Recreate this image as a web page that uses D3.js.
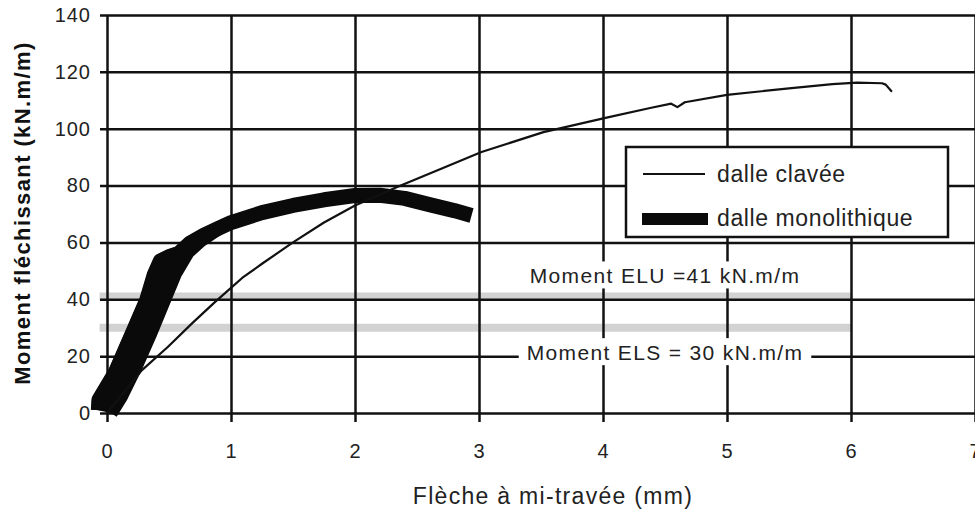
<!DOCTYPE html>
<html>
<head>
<meta charset="utf-8">
<script src="https://cdn.jsdelivr.net/npm/d3@7"></script>
<style>
  body { margin: 0; background: #fff; }
  svg { display: block; font-family: "Liberation Sans", Arial, Helvetica, sans-serif; }
</style>
</head>
<body>
<svg id="chart"></svg>
<script>
const WIDTH = 975;
const HEIGHT = 513;

const xTicks = [0, 1, 2, 3, 4, 5, 6, 7];
const yTicks = [0, 20, 40, 60, 80, 100, 120, 140];

// dalle clavée : [flèche mm, moment kN.m/m]
const clavee = [
  [0, 0], [0.15, 8], [0.28, 15], [0.49, 23.2], [0.69, 31.7], [0.87, 39], [1.0, 44],
  [1.09, 47.5], [1.25, 52.5], [1.5, 60], [1.75, 67], [2.0, 73], [2.34, 79.5],
  [2.7, 86], [3.02, 91.8], [3.52, 98.8], [4.02, 103.8], [4.38, 107.3], [4.55, 108.8],
  [4.6, 107.6], [4.66, 109.3], [5.0, 111.9], [5.5, 114.2], [5.85, 115.7], [6.05, 116.2],
  [6.25, 116], [6.28, 115.5], [6.33, 113]
];

// dalle monolithique : branche de chargement + cycle de déchargement
const monoLoad = [
  [-0.07, 1], [-0.065, 4.6], [0.065, 14.1], [0.226, 30.2], [0.32, 39.7], [0.38, 48.5],
  [0.43, 53.5], [0.5, 55], [0.58, 56.2], [0.67, 59.8], [0.78, 62.5], [0.9, 65],
  [1.0, 67], [1.25, 70.5], [1.5, 73], [1.75, 75], [2.0, 76.5], [2.2, 76.6],
  [2.4, 75.5], [2.6, 73.3], [2.8, 71.2], [2.94, 69.5]
];
const monoCycle = [
  [0.03, 0], [0.11, 5.6], [0.23, 16.2], [0.35, 28.1], [0.47, 40.8], [0.55, 49.2],
  [0.65, 56.6], [0.76, 60.9], [0.9, 65]
];

const limits = [
  { name: "Moment ELU =41 kN.m/m", value: 41, from: -0.06, to: 6.0 },
  { name: "Moment ELS = 30 kN.m/m", value: 30, from: -0.06, to: 6.0 }
];

const svg = d3.select("#chart")
  .attr("width", WIDTH)
  .attr("height", HEIGHT);

const x = d3.scaleLinear().domain([0, 7]).range([107, 975]);
const y = d3.scaleLinear().domain([0, 140]).range([413, 15]);

const line = d3.line()
  .x(d => x(d[0]))
  .y(d => y(d[1]));

// bandes grises ELU / ELS
svg.append("g")
  .selectAll("line")
  .data(limits)
  .join("line")
  .attr("x1", d => x(d.from))
  .attr("x2", d => x(d.to))
  .attr("y1", d => y(d.value))
  .attr("y2", d => y(d.value))
  .attr("stroke", "#d2d2d2")
  .attr("stroke-width", 8);

// grille + axes
const xAxis = svg.append("g")
  .attr("transform", `translate(0,${y(0)})`)
  .call(d3.axisBottom(x).tickValues(xTicks).tickFormat(d3.format("d")).tickSize(9).tickPadding(22));
xAxis.select(".domain").remove();
xAxis.selectAll(".tick line")
  .attr("y1", y(140) - y(0))
  .attr("stroke", "#111")
  .attr("stroke-width", 2.5);

const yAxis = svg.append("g")
  .attr("transform", `translate(${x(0)},0)`)
  .call(d3.axisLeft(y).tickValues(yTicks).tickSize(7).tickPadding(9));
yAxis.select(".domain").remove();
yAxis.selectAll(".tick line")
  .attr("x1", WIDTH - x(0))
  .attr("stroke", "#111")
  .attr("stroke-width", 2.5);

svg.selectAll(".tick text")
  .attr("font-size", 20)
  .attr("letter-spacing", 1)
  .attr("fill", "#222")
  .style("font-family", "'Liberation Sans', Arial, sans-serif");

// courbes : la boucle de la dalle monolithique est remplie
const nMerge = monoLoad.findIndex(d => d[0] === 0.9) + 1;
const loop = monoLoad.slice(0, nMerge).concat(monoCycle.slice().reverse());

svg.append("path")
  .datum(loop)
  .attr("fill", "#0a0a0a")
  .attr("stroke", "#0a0a0a")
  .attr("stroke-width", 14)
  .attr("stroke-linejoin", "round")
  .attr("d", line);

svg.append("path")
  .datum(monoLoad)
  .attr("fill", "none")
  .attr("stroke", "#0a0a0a")
  .attr("stroke-width", 15)
  .attr("stroke-linejoin", "round")
  .attr("d", line);

svg.append("path")
  .datum(clavee)
  .attr("fill", "none")
  .attr("stroke", "#111")
  .attr("stroke-width", 2.2)
  .attr("stroke-linejoin", "round")
  .attr("d", line);

// étiquettes ELU / ELS sur fond blanc
const labelY = [y(41) - 13, y(20) + 4];
limits.forEach((d, i) => {
  const g = svg.append("g");
  const t = g.append("text")
    .attr("x", x(4.5))
    .attr("y", labelY[i])
    .attr("text-anchor", "middle")
    .attr("font-size", 21)
    .attr("letter-spacing", 1.35)
    .attr("fill", "#222")
    .text(d.name);
  const b = t.node().getBBox();
  g.insert("rect", "text")
    .attr("x", b.x - 8)
    .attr("y", b.y - 3)
    .attr("width", b.width + 16)
    .attr("height", b.height + 4)
    .attr("fill", "#fff");
});

// légende
const legend = svg.append("g");
legend.append("rect")
  .attr("x", 626).attr("y", 147)
  .attr("width", 322).attr("height", 90)
  .attr("fill", "#fff")
  .attr("stroke", "#111")
  .attr("stroke-width", 2.5);
legend.append("line")
  .attr("x1", 643).attr("x2", 705)
  .attr("y1", 174).attr("y2", 174)
  .attr("stroke", "#111")
  .attr("stroke-width", 2.2);
legend.append("rect")
  .attr("x", 642).attr("y", 213)
  .attr("width", 66).attr("height", 12)
  .attr("fill", "#0a0a0a");
legend.append("text")
  .attr("x", 717).attr("y", 182)
  .attr("font-size", 23)
  .attr("letter-spacing", 0.6)
  .attr("fill", "#222")
  .text("dalle clavée");
legend.append("text")
  .attr("x", 717).attr("y", 226)
  .attr("font-size", 23)
  .attr("letter-spacing", 0.6)
  .attr("fill", "#222")
  .text("dalle monolithique");

// titres des axes
svg.append("text")
  .attr("x", 553).attr("y", 504)
  .attr("text-anchor", "middle")
  .attr("font-size", 23)
  .attr("letter-spacing", 1.3)
  .attr("fill", "#222")
  .text("Flèche à mi-travée (mm)");

svg.append("text")
  .attr("transform", "translate(30,213) rotate(-90)")
  .attr("text-anchor", "middle")
  .attr("font-size", 22)
  .attr("font-weight", "bold")
  .attr("letter-spacing", 1.4)
  .attr("fill", "#111")
  .text("Moment fléchissant (kN.m/m)");
</script>
</body>
</html>
